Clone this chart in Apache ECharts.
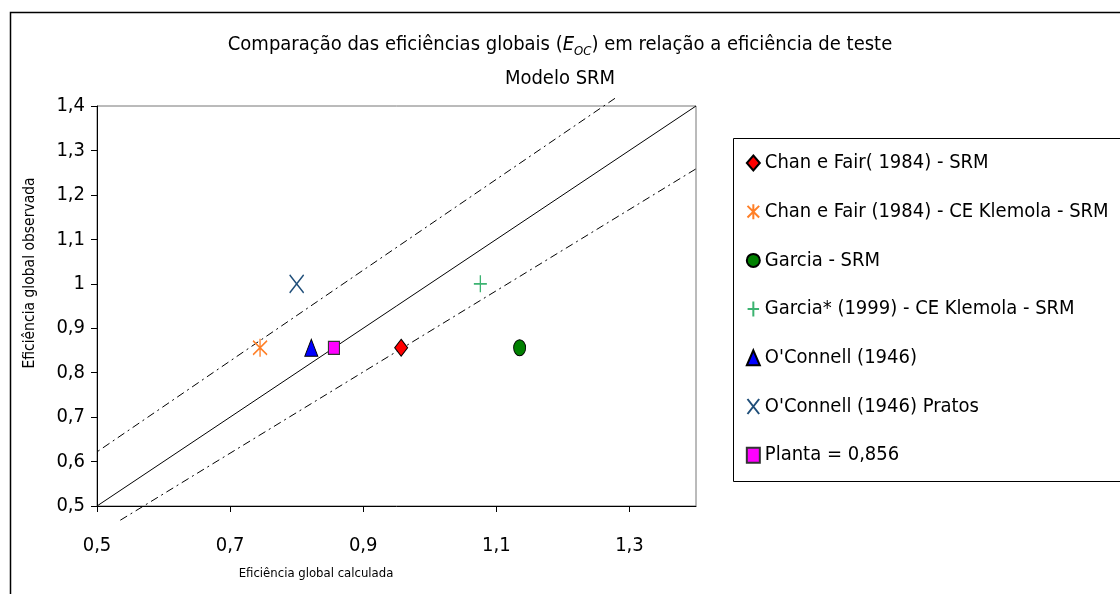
<!DOCTYPE html>
<html>
<head>
<meta charset="utf-8">
<script src="https://cdn.jsdelivr.net/npm/echarts@6/dist/echarts.min.js"></script>
<style>
  html, body { margin: 0; padding: 0; background: #fff; }
  #chart { width: 1120px; height: 594px; }
</style>
</head>
<body>
<div id="chart"></div>
<script>
// Series shown in the legend
const seriesNames = [
  'Chan e Fair( 1984) - SRM',
  'Chan e Fair (1984) - CE Klemola - SRM',
  'Garcia - SRM',
  'Garcia* (1999) - CE Klemola - SRM',
  "O'Connell (1946)",
  "O'Connell (1946) Pratos",
  'Planta = 0,856'
];
// Calculated (x) and observed (y) global efficiencies, one point per series
const calculada = [0.957, 0.745, 1.135, 1.076, 0.822, 0.800, 0.856];
const observada = [0.856, 0.856, 0.856, 1.000, 0.856, 1.000, 0.856];

// Reference lines: y = x and the two dash-dot deviation bands
const identityLine = [[0.5, 0.5], [1.4, 1.4]];
const upperGuide = [[0.4865, 0.608], [1.279, 1.418]];
const lowerGuide = [[0.535, 0.468], [1.407, 1.265]];

// Axis ticks
const xTickValues = [0.5, 0.7, 0.9, 1.1, 1.3];
const yTickValues = [0.5, 0.6, 0.7, 0.8, 0.9, 1.0, 1.1, 1.2, 1.3, 1.4];

const FONT = "'DejaVu Sans Condensed', 'DejaVu Sans', sans-serif";
const fmt = v => String(+(+v).toFixed(1)).replace('.', ',');

const symbols = [
  { symbol: 'diamond', size: [13, 17], color: '#ff0000', border: '#000000', bw: 1 },
  { symbol: 'path://M7,0L7,18M0,2L14,16M14,2L0,16', size: [14, 18], color: 'none', border: '#ff7f27', bw: 1.5 },
  { symbol: 'circle', size: [12, 16], color: '#008000', border: '#000000', bw: 1 },
  { symbol: 'path://M6.5,0L6.5,17M0,8.5L13,8.5', size: [13, 17], color: 'none', border: '#3cb371', bw: 1.5 },
  { symbol: 'triangle', size: [13, 17], color: '#0000ff', border: '#000000', bw: 1 },
  { symbol: 'path://M0,0L14,18M14,0L0,18', size: [14, 18], color: 'none', border: '#1f4e79', bw: 1.5 },
  { symbol: 'rect', size: [11, 13], color: '#ff00ff', border: '#333333', bw: 1.2 }
];

const scatterSeries = seriesNames.map((name, i) => ({
  name,
  type: 'scatter',
  data: [[calculada[i], observada[i]]],
  symbol: symbols[i].symbol,
  symbolSize: symbols[i].size,
  itemStyle: {
    color: symbols[i].color,
    borderColor: symbols[i].border,
    borderWidth: symbols[i].bw,
    opacity: 1
  },
  z: 5
}));

const guideLine = (data, type) => ({
  type: 'line',
  data,
  symbol: 'none',
  clip: false,
  silent: true,
  lineStyle: { color: '#000', width: 1, type },
  z: 3
});

const chart = echarts.init(document.getElementById('chart'), null, { renderer: 'canvas' });

const txt = extra => Object.assign({ fontFamily: FONT, fontSize: 20, fontWeight: 'normal', color: '#000', lineHeight: 26, verticalAlign: 'middle' }, extra);

chart.setOption({
  animation: false,
  backgroundColor: '#fff',
  textStyle: { fontFamily: FONT },
  title: [
    {
      text: '{n|Comparação das eficiências globais (}{i|E}{s|OC}{n|) em relação a eficiência de teste}',
      left: 'center',
      top: 27,
      textStyle: {
        fontWeight: 'normal',
        rich: {
          n: txt({}),
          i: txt({ fontStyle: 'italic' }),
          s: txt({ fontSize: 13, fontStyle: 'italic', verticalAlign: 'bottom' })
        }
      }
    },
    {
      text: 'Modelo SRM',
      left: 'center',
      top: 64,
      textStyle: { fontFamily: FONT, fontSize: 20, fontWeight: 'normal', color: '#000' }
    }
  ],
  grid: {
    left: 97, right: 424, top: 106, bottom: 88,
    show: true, borderColor: '#777', borderWidth: 1, backgroundColor: '#fff'
  },
  legend: {
    orient: 'vertical',
    left: 745,
    top: 151,
    padding: 0,
    itemWidth: 13,
    itemHeight: 15,
    itemGap: 24.7,
    selectedMode: false,
    data: seriesNames,
    textStyle: { fontFamily: FONT, fontSize: 20, color: '#000', lineHeight: 24 }
  },
  xAxis: {
    type: 'value',
    min: 0.5, max: 1.4,
    axisLine: { show: true, lineStyle: { color: '#000', width: 1 } },
    axisTick: { show: true, inside: false, length: 6, lineStyle: { color: '#000' }, customValues: xTickValues },
    axisLabel: { customValues: xTickValues, formatter: fmt, fontFamily: FONT, fontSize: 20, color: '#000', margin: 30 },
    splitLine: { show: false }
  },
  yAxis: {
    type: 'value',
    min: 0.5, max: 1.4,
    axisLine: { show: true, lineStyle: { color: '#000', width: 1 } },
    axisTick: { show: true, inside: false, length: 6, lineStyle: { color: '#000' }, customValues: yTickValues },
    axisLabel: { customValues: yTickValues, formatter: fmt, fontFamily: FONT, fontSize: 20, color: '#000', margin: 12 },
    splitLine: { show: false }
  },
  graphic: [
    // outer chart frame
    { type: 'rect', left: 8, top: 10, shape: { width: 1200, height: 700 }, style: { fill: 'none', stroke: '#000', lineWidth: 1.5 }, silent: true, z: -1 },
    // legend frame
    { type: 'rect', left: 731, top: 136, shape: { width: 400, height: 343 }, style: { fill: 'none', stroke: '#000', lineWidth: 1 }, silent: true },
    // axis titles
    { type: 'text', x: 316, y: 574, style: { text: 'Eficiência global calculada', font: '13px ' + FONT, fill: '#000', align: 'center', verticalAlign: 'middle' } },
    { type: 'text', x: 30, y: 273, rotation: Math.PI / 2, style: { text: 'Eficiência global observada', font: '15.5px ' + FONT, fill: '#000', align: 'center', verticalAlign: 'middle' } }
  ],
  series: [
    guideLine(identityLine, 'solid'),
    guideLine(upperGuide, [8, 4, 2, 4]),
    guideLine(lowerGuide, [8, 4, 2, 4]),
    ...scatterSeries
  ]
});
</script>
</body>
</html>
